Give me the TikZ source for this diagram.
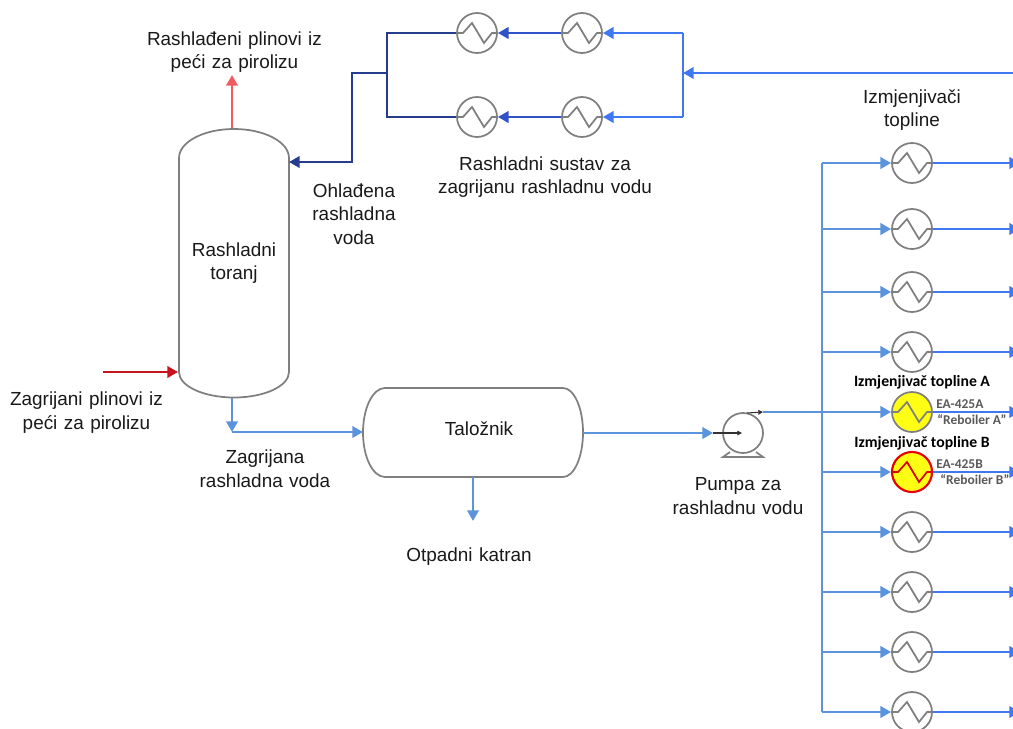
\documentclass[tikz,border=0pt]{standalone}
\usepackage{fontspec}
\setmainfont{Liberation Sans}
\newfontfamily\labfont[WordSpace=1.22]{Liberation Sans}
\newfontfamily\carl{Carlito}
\usetikzlibrary{arrows.meta}
\definecolor{gline}{HTML}{7F7F7F}
\definecolor{steel}{HTML}{5B94DC}
\definecolor{bright}{HTML}{3F78F0}
\definecolor{midb}{HTML}{2F52C8}
\definecolor{navy}{HTML}{263C8E}
\definecolor{redin}{HTML}{C8141E}
\definecolor{redout}{HTML}{F25A62}
\definecolor{yel}{HTML}{FFFF14}
\tikzset{
  x=0.75pt,y=-0.75pt,
  pipe/.style={line width=2.2pt,draw=#1,-{Triangle[length=8pt,width=8.5pt]}},
  pipeplain/.style={line width=2.2pt,draw=#1},
  vessel/.style={draw=gline,line width=1.3pt},
  xchg/.style={circle,draw=gline,line width=1.3pt,minimum size=30pt,inner sep=0pt,fill=white,
    path picture={\draw[#1,line width=1.3pt,line join=miter]
      ([xshift=-15pt]path picture bounding box.center)
      -- ++(4.5pt,0) -- ++(6.75pt,7.5pt) -- ++(9pt,-15pt) -- ++(6pt,7.5pt) -- ++(4pt,0);}},
  xchg/.default=gline,
  lab/.style={align=center,font=\labfont\fontsize{14.2}{17.8}\selectfont,inner sep=0pt,text=black!90},
  blab/.style={font=\carl\bfseries\fontsize{11.8}{13}\selectfont,inner sep=0pt,text=black},
  tag/.style={font=\carl\bfseries\fontsize{10.1}{11}\selectfont,inner sep=0pt,text=black!65,align=center}
}
\begin{document}
\begin{tikzpicture}
\clip (0,0) rectangle (1013,728);
% vessels
\draw[vessel] (179,158) arc[start angle=180,end angle=360,x radius=55,y radius=29]
  -- (289,372) arc[start angle=0,end angle=180,x radius=55,y radius=25.5] -- cycle;
\draw[vessel] (385,388) -- (563,388) arc[start angle=-90,end angle=90,x radius=20,y radius=44.5]
  -- (385,477) arc[start angle=90,end angle=270,x radius=22,y radius=44.5] -- cycle;
% anchor coordinates on vessels
\coordinate (towerTop) at (232,128);
\coordinate (towerBot) at (232,398);
\coordinate (towerIn) at (178,372);
\coordinate (towerRet) at (289,162);
\coordinate (setIn) at (363,432);
\coordinate (setOut) at (583,433);
\coordinate (setBot) at (473,477);
\coordinate (gasOut) at (232,75);
\coordinate (gasIn) at (103,372);
\coordinate (tarOut) at (473,521);
\coordinate (jTow) at (232,432);
\coordinate (hotIn) at (1013,73);
\coordinate (jHot) at (683,73);
\coordinate (jHotT) at (683,33);
\coordinate (jHotB) at (683,117);
\coordinate (jNavT) at (387,33);
\coordinate (jNavB) at (387,117);
\coordinate (jNav) at (387,73);
\coordinate (jA) at (352,73);
\coordinate (jB) at (352,162);
% exchangers top
\node[xchg] (t1) at (477,33) {};
\node[xchg] (t2) at (582,33) {};
\node[xchg] (b1) at (477,117) {};
\node[xchg] (b2) at (582,117) {};
% exchangers right
\foreach \n/\y in {r1/163,r2/229,r3/292,r4/352,r7/532,r8/592,r9/652,r10/712}
  \node[xchg] (\n) at (912,\y) {};
\node[xchg,fill=yel] (r5) at (912,412) {};
\node[xchg=red!85!black,fill=yel,draw=red!90!black,line width=1.6pt] (r6) at (912,472) {};
% pump
\node[circle,draw=gline,line width=1.3pt,minimum size=30pt,inner sep=0pt] (pump) at (743,433) {};
\draw[vessel] (730,452) -- (723,457) -- (763,457) -- (756,452);
\coordinate (pIn) at (713,433);
\coordinate (pC) at (742,433);
\coordinate (pT) at (747,413);
\coordinate (pD) at (763,412);
\draw[black!80,line width=0.8pt,-{Triangle[length=3.5pt,width=3.5pt]}] (pIn) -- (pC);
\draw[black!80,line width=0.8pt,-{Triangle[length=3.5pt,width=3.5pt]}] (pT) -- (pD);
% gas
\draw[pipe=redin] (gasIn) -- (towerIn);
\draw[pipe=redout] (towerTop) -- (gasOut);
% tower to settler
\draw[pipe=steel] (towerBot) -- (jTow);
\draw[pipe=steel] (jTow) -- (setIn);
\draw[pipe=steel] (setBot) -- (tarOut);
\draw[pipe=steel] (setOut) -- (pIn);
% return system
\draw[pipe=bright] (hotIn) -- (jHot);
\draw[pipeplain=bright] (jHotT) -- (jHotB);
\draw[pipe=bright] (jHotT) -- (t2.east);
\draw[pipe=bright] (jHotB) -- (b2.east);
\draw[pipe=midb] (t2.west) -- (t1.east);
\draw[pipe=midb] (b2.west) -- (b1.east);
\draw[pipeplain=navy] (t1.west) -- (jNavT) -- (jNavB) -- (b1.west);
\draw[pipe=navy] (jNav) -- (jA) -- (jB) -- (towerRet);
% header
\coordinate (hT) at (822,163);
\coordinate (hB) at (822,712);
\draw[pipeplain=steel] (hT) -- (hB);
\foreach \n in {r1,r2,r3,r4,r6,r7,r8,r9,r10}{
  \draw[pipe=steel] (hT |- \n.west) -- (\n.west);
  \coordinate (e\n) at (1020,0);
  \draw[pipe=bright] (\n.east) -- (e\n |- \n.east);
}
\draw[pipe=steel] (pD) -- (r5.west);
\coordinate (er5) at (1020,0);
\draw[pipe=bright] (r5.east) -- (er5 |- r5.east);
% labels
\node[lab] (l1) at (234.5,52) {Rashlađeni plinovi iz\\peći za pirolizu};
\node[lab] (l2) at (234,263) {Rashladni\\toranj};
\node[lab] (l3) at (354,214) {Ohlađena\\rashladna\\voda};
\node[lab] (l4) at (545,177) {Rashladni sustav za\\zagrijanu rashladnu vodu};
\node[lab] (l5) at (912,110) {Izmjenjivači\\topline};
\node[lab] (l6) at (86.5,412.5) {Zagrijani plinovi iz\\peći za pirolizu};
\node[lab] (l7) at (265,469) {Zagrijana\\rashladna voda};
\node[lab] (l8) at (479,429) {Taložnik};
\node[lab] (l9) at (469,557) {Otpadni katran};
\node[lab] (l10) at (738,496) {Pumpa za\\rashladnu vodu};
\node[blab] (l11) at (922,382) {Izmjenjivač topline A};
\node[blab] (l12) at (922,443) {Izmjenjivač topline B};
\node[tag,anchor=west] (l13) at (936,404) {EA-425A};
\node[tag,anchor=west] (l14) at (937,420) {“Reboiler A”};
\node[tag,anchor=west] (l15) at (936,464) {EA-425B};
\node[tag,anchor=west] (l16) at (940,480) {“Reboiler B”};
\end{tikzpicture}
\end{document}
